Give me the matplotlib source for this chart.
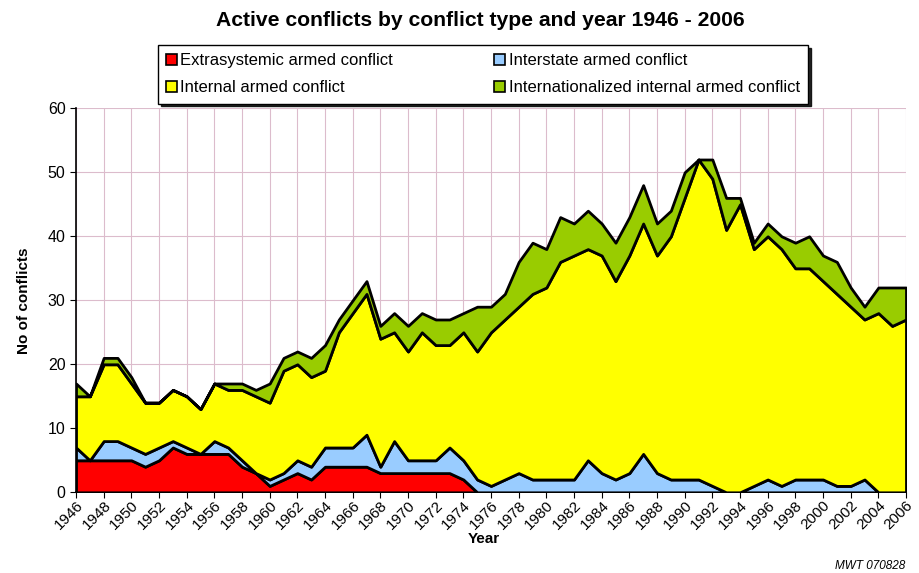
import matplotlib
matplotlib.use("Agg")
from matplotlib import pyplot as plt
from matplotlib.patches import Patch
import numpy as np

plt.rcParams['font.family'] = ['Liberation Sans', 'DejaVu Sans']

## Data (counts per year)
years = list(range(1946, 2007))

extrasystemic = [5, 5, 5, 5, 5, 4, 5, 7, 6, 6,
                 6, 6, 4, 3, 1, 2, 3, 2, 4, 4,
                 4, 4, 3, 3, 3, 3, 3, 3, 2, 0,
                 0, 0, 0, 0, 0, 0, 0, 0, 0, 0,
                 0, 0, 0, 0, 0, 0, 0, 0, 0, 0,
                 0, 0, 0, 0, 0, 0, 0, 0, 0, 0, 0]

interstate = [2, 0, 3, 3, 2, 2, 2, 1, 1, 0,
              2, 1, 1, 0, 1, 1, 2, 2, 3, 3,
              3, 5, 1, 5, 2, 2, 2, 4, 3, 2,
              1, 2, 3, 2, 2, 2, 2, 5, 3, 2,
              3, 6, 3, 2, 2, 2, 1, 0, 0, 1,
              2, 1, 2, 2, 2, 1, 1, 2, 0, 0, 0]

internal = [8, 10, 12, 12, 10, 8, 7, 8, 8, 7,
            9, 9, 11, 12, 12, 16, 15, 14, 12, 18,
            21, 22, 20, 17, 17, 20, 18, 16, 20, 20,
            24, 25, 26, 29, 30, 34, 35, 33, 34, 31,
            34, 36, 34, 38, 44, 50, 48, 41, 45, 37,
            38, 37, 33, 33, 31, 30, 28, 25, 28, 26, 27]

internationalized = [2, 0, 1, 1, 1, 0, 0, 0, 0, 0,
                     0, 1, 1, 1, 3, 2, 2, 3, 4, 2,
                     2, 2, 2, 3, 4, 3, 4, 4, 3, 7,
                     4, 4, 7, 8, 6, 7, 5, 6, 5, 6,
                     6, 6, 5, 4, 4, 0, 3, 5, 1, 1,
                     2, 2, 4, 5, 4, 5, 3, 2, 4, 6, 5]

labels = ["Extrasystemic armed conflict", "Interstate armed conflict",
          "Internal armed conflict", "Internationalized internal armed conflict"]
colors = ["#ff0000", "#99ccff", "#ffff00", "#99cc00"]

fig = plt.figure(figsize=(9.19, 5.73), dpi=100)
ax = fig.add_axes([76 / 919, 1 - 492.3 / 573, 830 / 919, 384 / 573])

ax.stackplot(years, extrasystemic, interstate, internal, internationalized,
             colors=colors, edgecolor="black", linewidth=2, zorder=3)

ax.set_xlim(1946, 2006)
ax.set_ylim(0, 60)
ax.set_xticks(range(1946, 2007, 2))
ax.set_yticks(range(0, 61, 10))
ax.tick_params(axis="x", labelsize=11, length=4, pad=0.5, direction="out")
ax.tick_params(axis="y", labelsize=11.5, length=4, direction="out")
plt.setp(ax.get_xticklabels(), rotation=45, ha="right", rotation_mode="anchor")

ax.grid(True, color="#dcbccc", linewidth=0.8, zorder=0)
ax.set_axisbelow(True)
for side in ["top", "right"]:
    ax.spines[side].set_visible(False)
ax.spines["left"].set_linewidth(1.2)
ax.spines["bottom"].set_linewidth(1.2)

ax.set_ylabel("No of conflicts", fontsize=11, fontweight="bold", labelpad=12)
fig.text(484 / 919, 1 - 539 / 573, "Year", ha="center", va="center",
         fontsize=11, fontweight="bold")

fig.text(480 / 919, 1 - 20 / 573, "Active conflicts by conflict type and year 1946 - 2006",
         ha="center", va="center", fontsize=15.2, fontweight="bold")

## legend, filled row by row
handles = [Patch(facecolor=c, edgecolor="black", linewidth=1.2) for c in colors]
order = [0, 2, 1, 3]
leg = fig.legend([handles[i] for i in order], [labels[i] for i in order],
                 ncol=2, loc="upper left", mode="expand",
                 bbox_to_anchor=(158 / 919, 1 - 45 / 573, 650 / 919, 0),
                 fontsize=12, handlelength=0.65, handleheight=0.65, handletextpad=0.2,
                 frameon=True, fancybox=False, shadow={"color": "black", "alpha": 0.85},
                 borderaxespad=0, borderpad=0.5, labelspacing=0.72)
leg.get_frame().set_edgecolor("black")
leg.get_frame().set_linewidth(1.0)

fig.text(905 / 919, 1 - 566 / 573, "MWT 070828", ha="right", va="center",
         fontsize=8.5, style="italic")

fig.savefig("out.png", dpi=100)
